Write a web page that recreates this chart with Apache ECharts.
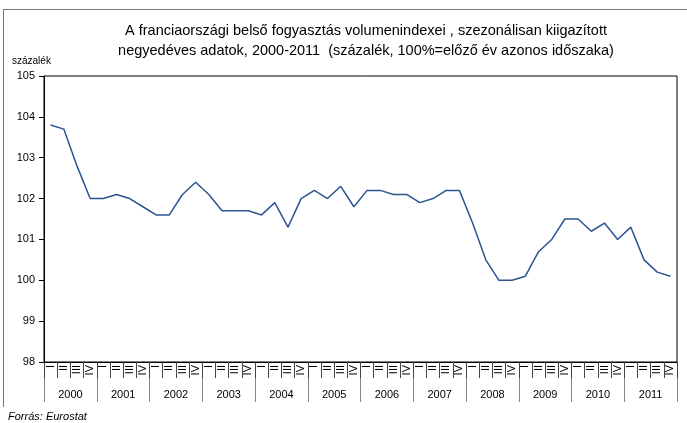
<!DOCTYPE html>
<html>
<head>
<meta charset="utf-8">
<script src="https://cdn.jsdelivr.net/npm/echarts@6/dist/echarts.min.js"></script>
<style>
  html, body { margin: 0; padding: 0; background: #fff; }
  #chart { width: 687px; height: 423px; }
</style>
</head>
<body>
<div id="chart"></div>
<script>
// negyedévek, évek, értékek
const years = ['2000', '2001', '2002', '2003', '2004', '2005', '2006', '2007', '2008', '2009', '2010', '2011']
const quarterNames = ['I', 'II', 'III', 'IV']
const values = [
  103.8, 103.7, 102.8, 102.0,
  102.0, 102.1, 102.0, 101.8,
  101.6, 101.6, 102.1, 102.4,
  102.1, 101.7, 101.7, 101.7,
  101.6, 101.9, 101.3, 102.0,
  102.2, 102.0, 102.3, 101.8,
  102.2, 102.2, 102.1, 102.1,
  101.9, 102.0, 102.2, 102.2,
  101.4, 100.5, 100.0, 100.0,
  100.1, 100.7, 101.0, 101.5,
  101.5, 101.2, 101.4, 101.0,
  101.3, 100.5, 100.2, 100.1
]

let quarters = []
years.forEach(function (y) {
  quarterNames.forEach(function (q) { quarters.push(y + ' ' + q) })
})

const font = 'Liberation Sans, Arial, sans-serif'
let myChart = echarts.init(document.getElementById('chart'), null, { renderer: 'canvas' })
let option = {
  animation: false,
  backgroundColor: '#fff',
  title: {
    text: 'A franciaországi belső fogyasztás volumenindexei , szezonálisan kiigazított\nnegyedéves adatok, 2000-2011  (százalék, 100%=előző év azonos időszaka)',
    left: 361,
    top: 16,
    textAlign: 'center',
    textStyle: { fontFamily: font, fontSize: 14.5, fontWeight: 'normal', color: '#000', lineHeight: 20 }
  },
  grid: {
    left: 44, right: 10, top: 76, bottom: 61,
    show: true, borderColor: '#000', borderWidth: 1, backgroundColor: 'transparent'
  },
  xAxis: [
    {
      type: 'category',
      data: quarters,
      boundaryGap: true,
      position: 'bottom',
      axisLine: { lineStyle: { color: '#000', width: 1 } },
      axisTick: { show: true, interval: 0, length: 16, lineStyle: { color: '#444' } },
      axisLabel: {
        interval: 0, rotate: 90, margin: 3,
        fontFamily: font, fontSize: 11, color: '#000',
        formatter: function (v) { return v.split(' ')[1] }
      },
      splitLine: { show: false }
    },
    {
      type: 'category',
      data: years,
      boundaryGap: true,
      position: 'bottom',
      offset: 16,
      axisLine: { show: false },
      axisTick: { show: true, interval: 0, length: 24, lineStyle: { color: '#888' } },
      axisLabel: { interval: 0, margin: 11, fontFamily: font, fontSize: 11, color: '#000' },
      splitLine: { show: false }
    }
  ],
  yAxis: {
    type: 'value',
    min: 98, max: 105, interval: 1,
    name: 'százalék',
    nameLocation: 'end',
    nameGap: 10,
    nameTextStyle: { fontFamily: font, fontSize: 10, color: '#000', align: 'left', padding: [0, 0, 0, -32] },
    axisLine: { show: true, lineStyle: { color: '#000', width: 1 } },
    axisTick: { show: true, length: 5, lineStyle: { color: '#000' } },
    axisLabel: { margin: 9, fontFamily: font, fontSize: 11, color: '#000' },
    splitLine: { show: false }
  },
  series: [
    {
      type: 'line',
      xAxisIndex: 0,
      data: values,
      symbol: 'none',
      lineStyle: { color: '#2b5590', width: 1.5 },
      itemStyle: { color: '#2b5590' }
    }
  ],
  graphic: [
    { type: 'line', shape: { x1: 3, y1: 9.5, x2: 687, y2: 9.5 }, style: { stroke: '#777', lineWidth: 1 } },
    { type: 'line', shape: { x1: 3.5, y1: 9, x2: 3.5, y2: 407 }, style: { stroke: '#777', lineWidth: 1 } },
    {
      type: 'text', left: 8, top: 411,
      style: { text: 'Forrás: Eurostat', fontFamily: font, fontSize: 11, fontStyle: 'italic', fill: '#000' }
    }
  ]
}
myChart.setOption(option)
</script>
</body>
</html>
